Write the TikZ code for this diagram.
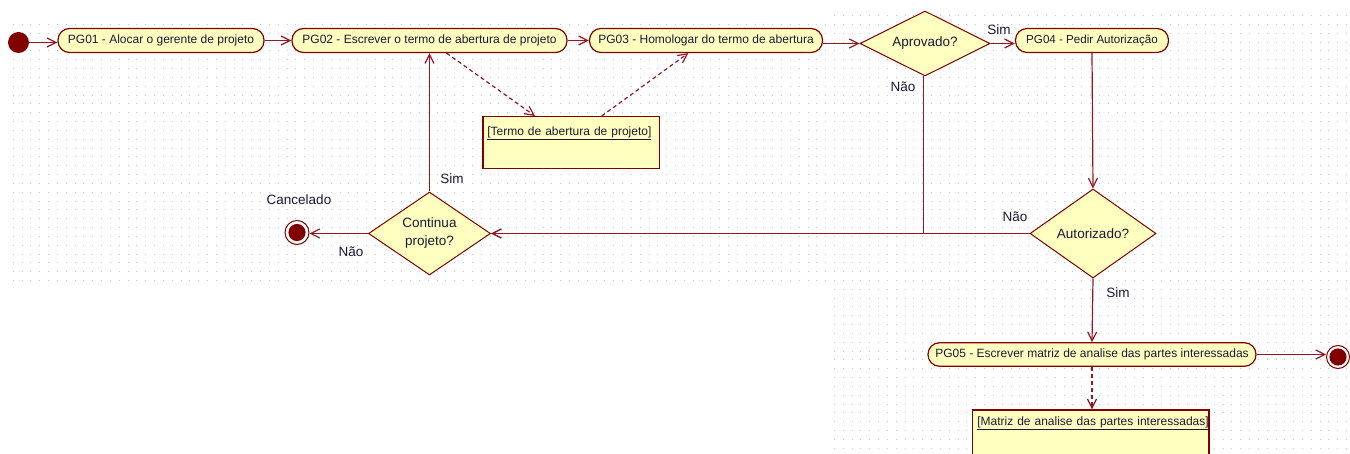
\documentclass[tikz,border=0pt]{standalone}
\usepackage{fontspec}
\setmainfont{Liberation Sans}
\usetikzlibrary{arrows.meta,shapes.geometric}
\definecolor{umlred}{RGB}{128,0,0}
\definecolor{wire}{RGB}{145,25,35}
\definecolor{paper}{RGB}{255,255,192}
\definecolor{ink}{RGB}{25,25,55}
\definecolor{gridgray}{RGB}{200,200,200}

\begin{document}
\begin{tikzpicture}[x=1pt,y=-1pt,
  action/.style={draw=umlred, line width=1.2pt, fill=paper, rounded corners=11.5pt,
    minimum height=24pt, inner sep=0pt, text=ink, font=\fontsize{12}{14}\selectfont},
  decision/.style={diamond, draw=umlred, line width=1pt, fill=paper, inner sep=0pt,
    align=center, text=ink, font=\fontsize{13.5}{18}\selectfont},
  objnote/.style={draw=umlred, line width=1.2pt, fill=paper, text=ink, align=left,
    font=\fontsize{12}{14}\selectfont, anchor=north west},
  startnode/.style={circle, fill=umlred, minimum size=21pt, inner sep=0pt},
  endnode/.style={circle, draw=umlred, fill=white, line width=1pt, minimum size=24pt,
    inner sep=0pt, path picture={\fill[umlred] (path picture bounding box.center) circle (8.6pt);}},
  lbl/.style={font=\fontsize{13.5}{16}\selectfont, inner sep=0pt, text=ink},
  conn/.style={draw=wire, line width=1.2pt, -{Straight Barb[length=9pt,width=9pt]}},
  flow/.style={conn, dash pattern=on 4pt off 3pt},
  griddots/.style={gridgray, line width=1pt, dash pattern=on 1pt off 7.83pt}
]
\clip (0,0) rectangle (1350,454);
\fill[white] (0,0) rectangle (1350,454);

% dotted drawing grid
\foreach \r in {1,...,30}
  \draw[griddots] (12.8,{15.6+\r*8.83}) -- (828,{15.6+\r*8.83});
\foreach \r in {0,...,49}
  \draw[griddots] (834,{15.6+\r*8.83}) -- (1350,{15.6+\r*8.83});

% actions
\node[startnode] (start) at (18.5,42.5) {};
\node[action, minimum width=206pt] (pg1) at (161,40.5) {PG01 - Alocar o gerente de projeto};
\node[action, minimum width=275pt] (pg2) at (429.5,40.5) {PG02 - Escrever o termo de abertura de projeto};
\node[action, minimum width=233pt] (pg3) at (706,40.5) {PG03 - Homologar do termo de abertura};
\node[action, minimum width=153pt, font=\fontsize{11.6}{14}\selectfont] (pg4) at (1092,40.5) {PG04 - Pedir Autorização};
\node[action, minimum width=328pt, minimum height=23.5pt] (pg5) at (1092,354.5) {PG05 - Escrever matriz de analise das partes interessadas};

% decisions
\node[decision, aspect=2, minimum width=130pt, minimum height=65pt] (aprov) at (925,43.5) {Aprovado?};
\node[decision, aspect=1.4, minimum width=126pt, minimum height=89pt] (autor) at (1093,233.5) {Autorizado?};
\node[decision, aspect=1.4, minimum width=122pt, minimum height=83pt] (cont) at (429.5,233.5) {Continua\\projeto?};

% final states
\node[endnode] (cancel) at (297,232.5) {};
\node[endnode, minimum size=23pt] (fim) at (1338,357) {};

% object nodes
\node[objnote, text width=167.9pt, inner xsep=4.4pt, inner ysep=6pt,
  text height=12.5pt, text depth=27.8pt] (termo) at (482.3,116)
  {\underline{[Termo de abertura de projeto]}};
\node[objnote, text width=226.6pt, inner xsep=5pt, inner ysep=4pt,
  text height=11.7pt, text depth=40pt] (matriz) at (971.7,409.3)
  {\underline{[Matriz de analise das partes interessadas]}};

% labels
\node[lbl] (lsim1) at (999,30) {Sim};
\node[lbl] (lnao1) at (903,87) {Não};
\node[lbl] (lnao2) at (1015,216.5) {Não};
\node[lbl] (lsim2) at (1118,293) {Sim};
\node[lbl] (lsim3) at (452,179) {Sim};
\node[lbl] (lnao3) at (351,252) {Não};
\node[lbl] (lcanc) at (299,200) {Cancelado};

% control flow
\draw[conn] (start.east) -- (start.east -| pg1.west);
\draw[conn] (pg1.east) -- (pg2.west);
\draw[conn] (pg2.east) -- (pg3.west);
\draw[conn] (pg3.east |- aprov.west) -- (aprov.west);
\draw[conn] (aprov.east) -- (aprov.east -| pg4.west);
\draw[conn] (pg4.south) -- (autor.north);
\draw[conn] (autor.south) -- (pg5.north);
\draw[conn] (pg5.east) -- (pg5.east -| fim.west);
\draw[conn] ([xshift=-1.5pt]aprov.south) |- (cont.east);
\draw[conn] (autor.west) -- (cont.east);
\draw[conn] (cont.north) -- (pg2.south);
\draw[conn] (cont.west) -- (cont.west -| cancel.east);

% object flow
\draw[flow] ([xshift=17pt]pg2.south) -- ([xshift=52.7pt]termo.north west);
\draw[flow] ([xshift=119.4pt]termo.north west) -- ([xshift=-17.7pt]pg3.south);
\draw[flow] (pg5.south) -- (pg5.south |- matriz.north);
\end{tikzpicture}
\end{document}
